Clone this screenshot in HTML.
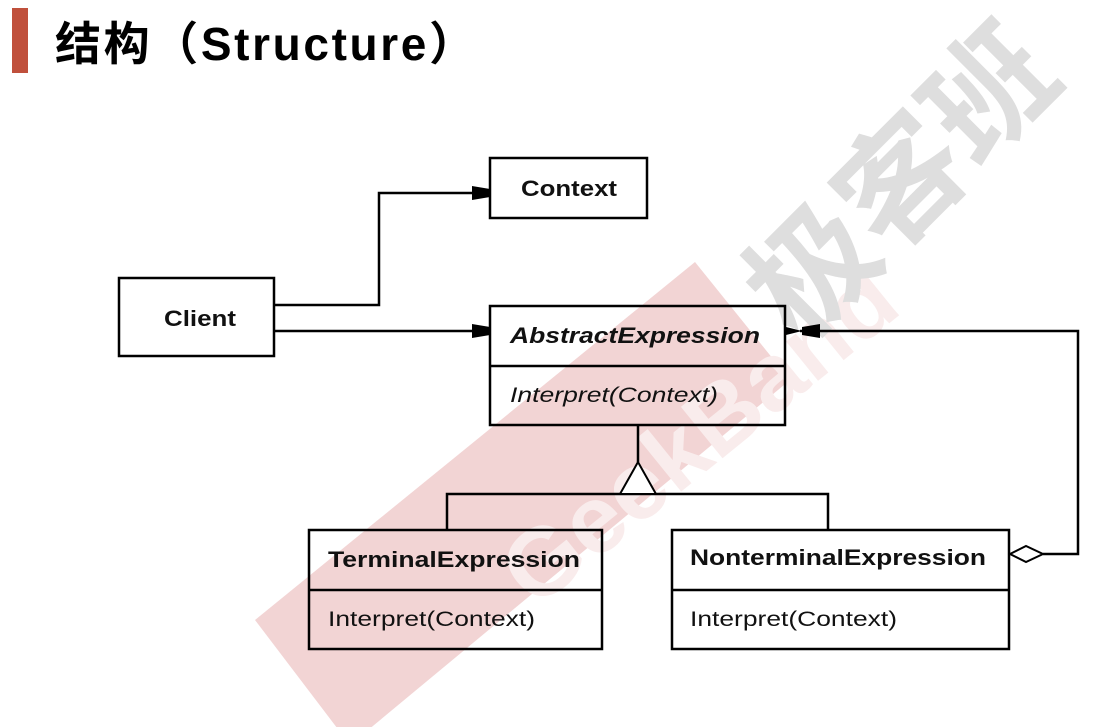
<!DOCTYPE html>
<html><head><meta charset="utf-8"><style>
html,body{margin:0;padding:0;background:#fff;width:1105px;height:727px;overflow:hidden}
svg{display:block}
</style></head><body>
<svg width="1105" height="727" viewBox="0 0 1105 727" xmlns="http://www.w3.org/2000/svg">
<rect x="0" y="0" width="1105" height="727" fill="#fff"/>
<!-- watermarks -->
<polygon points="255,620 695,262 790,380 350,745" fill="#f2d4d4"/>
<text x="0" y="0" transform="translate(535,610) rotate(-39)" font-family="Liberation Sans, sans-serif" font-weight="bold" font-size="96" fill="#f9ecec">GeekBand</text>
<text x="0" y="0" transform="translate(800,345) rotate(-45)" font-family="Liberation Sans, 'Noto Sans CJK SC', sans-serif" font-weight="bold" font-size="125" fill="#dedede">极客班</text>
<!-- title -->
<rect x="12" y="8" width="16" height="65" fill="#c0503c"/>
<text x="55" y="60" textLength="420" lengthAdjust="spacing" font-family="Liberation Sans, 'Noto Sans CJK SC', sans-serif" font-weight="bold" font-size="46" fill="#000">结构（Structure）</text>
<g fill="none" stroke="#000" stroke-width="2.5">
<rect x="490" y="158" width="157" height="60" fill="#fff"/>
<rect x="119" y="278" width="155" height="78" fill="#fff"/>
<rect x="490" y="306" width="295" height="119" fill="none"/>
<line x1="490" y1="366" x2="785" y2="366"/>
<rect x="309" y="530" width="293" height="119"/>
<line x1="309" y1="590" x2="602" y2="590"/>
<rect x="672" y="530" width="337" height="119"/>
<line x1="672" y1="590" x2="1009" y2="590"/>
<polyline points="274,305 379,305 379,193 478,193"/>
<line x1="274" y1="331" x2="478" y2="331"/>
<polyline points="800,331 1078,331 1078,554 1043,554"/>
<line x1="638" y1="425" x2="638" y2="462"/>
<polyline points="447,530 447,494 828,494 828,530"/>
</g>
<g fill="#000">
<polygon points="472,186 490,189 490,197 472,200"/>
<polygon points="472,324 490,327 490,335 472,338"/>
<polygon points="820,324 802,327 802,335 820,338"/>
<polygon points="786,327 802,331 786,335"/>
</g>
<polygon points="638,462 620,494 656,494" fill="#fff" stroke="#000" stroke-width="2"/>
<polygon points="1010,554 1026,546 1043,554 1026,562" fill="#fff" stroke="#000" stroke-width="2"/>
<g font-family="Liberation Sans, sans-serif" font-size="22" fill="#111">
<text x="521" y="196" textLength="96" lengthAdjust="spacingAndGlyphs" font-weight="bold">Context</text>
<text x="164" y="326" textLength="72" lengthAdjust="spacingAndGlyphs" font-weight="bold">Client</text>
<text x="510" y="343" textLength="250" lengthAdjust="spacingAndGlyphs" font-weight="bold" font-style="italic">AbstractExpression</text>
<text x="510" y="402" textLength="208" lengthAdjust="spacingAndGlyphs" font-style="italic" font-size="21">Interpret(Context)</text>
<text x="328" y="567" textLength="252" lengthAdjust="spacingAndGlyphs" font-weight="bold">TerminalExpression</text>
<text x="328" y="626" textLength="207" lengthAdjust="spacingAndGlyphs" font-size="21">Interpret(Context)</text>
<text x="690" y="565" textLength="296" lengthAdjust="spacingAndGlyphs" font-weight="bold">NonterminalExpression</text>
<text x="690" y="626" textLength="207" lengthAdjust="spacingAndGlyphs" font-size="21">Interpret(Context)</text>
</g>
</svg>
</body></html>
